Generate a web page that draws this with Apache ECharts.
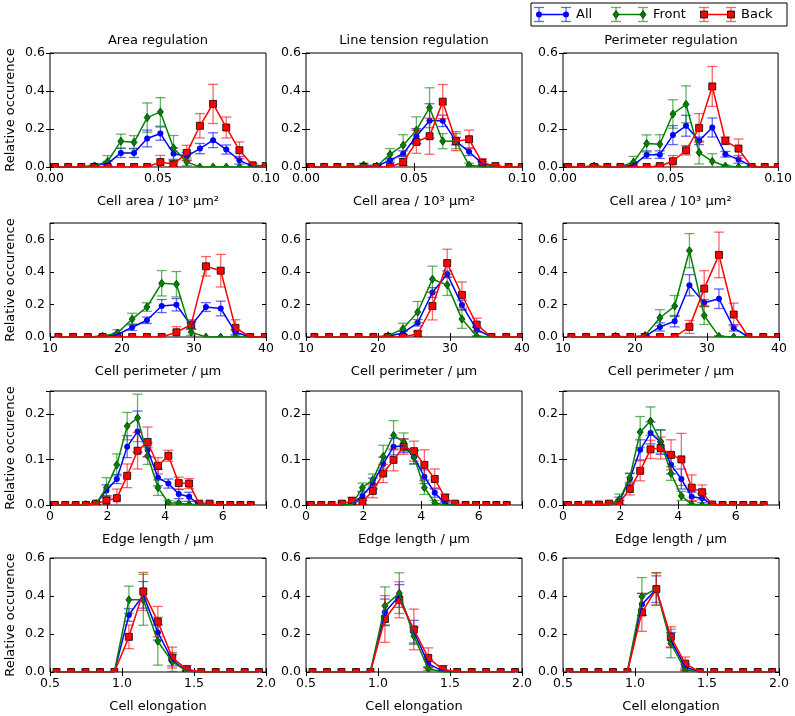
<!DOCTYPE html>
<html>
<head>
<meta charset="utf-8">
<script src="https://cdn.jsdelivr.net/npm/echarts@6/dist/echarts.min.js"></script>
<style>html,body{margin:0;padding:0;background:#fff}#main{width:795px;height:716px}</style>
</head>
<body>
<div id="main"></div>
<script>
// bin centres, one array per row
var areaX  = [0.0023, 0.0084, 0.0145, 0.0206, 0.0267, 0.0328, 0.0389, 0.0450, 0.0511, 0.0572, 0.0633, 0.0694, 0.0755, 0.0816, 0.0877, 0.0938, 0.0999];
var perimX = [11.16, 13.21, 15.26, 17.31, 19.36, 21.41, 23.46, 25.51, 27.56, 29.61, 31.66, 33.71, 35.76, 37.81, 39.86];
var edgeX  = [0.17, 0.53, 0.89, 1.25, 1.60, 1.96, 2.32, 2.68, 3.04, 3.39, 3.75, 4.11, 4.47, 4.83, 5.18, 5.54, 5.90, 6.26, 6.61, 6.97];
var elongX = [0.545, 0.646, 0.746, 0.847, 0.947, 1.048, 1.148, 1.249, 1.349, 1.450, 1.550, 1.651, 1.751, 1.852, 1.952];

// row 1: cell area  (A = area reg., L = line tension reg., P = perimeter reg.)
var areaA_all      = [0,0,0,0.008,0.018,0.074,0.074,0.150,0.176,0.070,0.056,0.097,0.141,0.092,0.035,0.003,0];
var areaA_allErr   = [0,0,0,0.008,0.012,0.024,0.024,0.044,0.035,0.030,0.020,0.027,0.039,0.024,0.020,0.005,0];
var areaA_front    = [0,0,0,0.005,0.030,0.136,0.130,0.260,0.290,0.100,0.027,0,0,0,0,0,0];
var areaA_frontErr = [0,0,0,0.005,0.030,0.037,0.035,0.077,0.075,0.066,0.020,0,0,0,0,0,0];
var areaA_back     = [0,0,0,0,0,0,0,0,0.026,0.014,0.074,0.217,0.332,0.208,0.088,0.009,0.005];
var areaA_backErr  = [0,0,0,0,0,0,0,0,0.035,0.012,0.040,0.064,0.103,0.055,0.044,0.010,0.005];

var areaL_all      = [0,0,0,0,0,0.005,0.035,0.070,0.162,0.243,0.243,0.136,0.080,0.018,0.003,0,0];
var areaL_allErr   = [0,0,0,0,0,0.005,0.010,0.015,0.040,0.090,0.030,0.020,0.020,0.010,0.003,0,0];
var areaL_front    = [0,0,0,0,0.010,0.005,0.067,0.115,0.194,0.312,0.136,0.136,0.010,0,0,0,0];
var areaL_frontErr = [0,0,0,0,0.010,0.005,0.030,0.055,0.070,0.105,0.040,0.040,0.010,0,0,0,0];
var areaL_back     = [0,0,0,0,0,0,0,0.026,0.132,0.162,0.344,0.136,0.146,0.023,0.005,0,0];
var areaL_backErr  = [0,0,0,0,0,0,0,0.020,0.060,0.095,0.090,0.050,0.048,0.020,0.005,0,0];

var areaP_all      = [0,0,0.005,0,0,0.010,0.065,0.065,0.168,0.217,0.138,0.208,0.067,0.040,0.003,0,0];
var areaP_allErr   = [0,0,0.005,0,0,0.010,0.020,0.020,0.050,0.055,0.020,0.050,0.015,0.020,0.003,0,0];
var areaP_front    = [0,0,0.005,0,0,0.026,0.124,0.120,0.279,0.330,0.076,0.030,0.005,0,0,0,0];
var areaP_frontErr = [0,0,0.008,0,0,0.030,0.045,0.050,0.075,0.097,0.060,0.040,0.005,0,0,0,0];
var areaP_back     = [0,0,0,0,0,0,0,0.005,0.030,0.088,0.206,0.424,0.138,0.097,0,0,0];
var areaP_backErr  = [0,0,0,0,0,0,0,0.005,0.030,0.025,0.075,0.105,0.020,0.050,0,0,0];

// row 2: cell perimeter
var perimA_all      = [0,0,0,0.004,0.015,0.060,0.103,0.190,0.198,0.070,0.184,0.175,0.029,0,0];
var perimA_allErr   = [0,0,0,0.004,0.010,0.020,0.020,0.040,0.038,0.020,0.027,0.045,0.015,0,0];
var perimA_front    = [0,0,0,0.005,0.025,0.110,0.184,0.330,0.324,0.030,0,0,0,0,0];
var perimA_frontErr = [0,0,0,0.005,0.020,0.036,0.026,0.078,0.078,0.020,0,0,0,0,0];
var perimA_back     = [0,0,0,0,0,0,0,0,0.029,0.076,0.434,0.407,0.056,0,0];
var perimA_backErr  = [0,0,0,0,0,0,0,0,0.035,0.030,0.060,0.100,0.050,0,0];

var perimL_all      = [0,0,0,0,0,0.004,0.025,0.087,0.273,0.386,0.196,0.045,0,0,0];
var perimL_allErr   = [0,0,0,0,0,0.004,0.010,0.020,0.030,0.020,0.030,0.015,0,0,0];
var perimL_front    = [0,0,0,0,0,0.008,0.050,0.153,0.355,0.320,0.110,0.004,0,0,0];
var perimL_frontErr = [0,0,0,0,0,0.008,0.035,0.065,0.080,0.065,0.057,0.004,0,0,0];
var perimL_back     = [0,0,0,0,0,0,0,0.020,0.190,0.454,0.258,0.076,0,0,0];
var perimL_backErr  = [0,0,0,0,0,0,0,0.015,0.085,0.085,0.080,0.040,0,0,0];

var perimP_all      = [0,0,0,0,0,0.004,0.062,0.097,0.318,0.210,0.235,0.056,0,0,0];
var perimP_allErr   = [0,0,0,0,0,0.004,0.025,0.035,0.065,0.020,0.060,0.020,0,0,0];
var perimP_front    = [0,0,0,0.004,0,0.010,0.118,0.190,0.530,0.132,0.004,0,0,0,0];
var perimP_frontErr = [0,0,0,0.004,0,0.010,0.050,0.065,0.105,0.055,0.004,0,0,0,0];
var perimP_back     = [0,0,0,0,0,0,0,0,0.062,0.297,0.504,0.138,0,0,0];
var perimP_backErr  = [0,0,0,0,0,0,0,0,0.040,0.110,0.140,0.070,0,0,0];

// row 3: edge length
var edgeA_all      = [0,0,0,0,0.003,0.032,0.057,0.128,0.161,0.121,0.060,0.047,0.024,0.018,0.001,0,0,0,0,0];
var edgeA_allErr   = [0,0,0,0,0.003,0.012,0.010,0.024,0.045,0.015,0.018,0.010,0.010,0.010,0.001,0,0,0,0,0];
var edgeA_front    = [0,0,0,0.001,0.003,0.038,0.088,0.173,0.191,0.108,0.038,0.005,0.004,0.001,0,0,0,0,0,0];
var edgeA_frontErr = [0,0,0,0.001,0.003,0.022,0.024,0.030,0.052,0.019,0.017,0.005,0.004,0.001,0,0,0,0,0,0];
var edgeA_back     = [0,0,0,0,0.003,0.010,0.015,0.064,0.119,0.138,0.086,0.108,0.048,0.047,0.003,0.003,0,0,0,0];
var edgeA_backErr  = [0,0,0,0,0.003,0.010,0.020,0.026,0.040,0.033,0.018,0.012,0.013,0.011,0.003,0.003,0,0,0,0];

var edgeL_all      = [0,0,0,0,0.003,0.020,0.047,0.090,0.128,0.130,0.105,0.062,0.027,0.003,0,0,0,0,0,0];
var edgeL_allErr   = [0,0,0,0,0.003,0.010,0.012,0.015,0.018,0.015,0.015,0.015,0.010,0.003,0,0,0,0,0,0];
var edgeL_front    = [0,0,0,0,0.001,0.038,0.055,0.106,0.153,0.138,0.105,0.038,0.005,0,0,0,0,0,0,0];
var edgeL_frontErr = [0,0,0,0,0.001,0.010,0.013,0.025,0.032,0.020,0.015,0.015,0.005,0,0,0,0,0,0,0];
var edgeL_back     = [0,0,0,0.003,0.009,0.007,0.031,0.069,0.099,0.128,0.118,0.088,0.057,0.016,0.003,0,0,0,0,0];
var edgeL_backErr  = [0,0,0,0.003,0.008,0.007,0.015,0.020,0.024,0.017,0.022,0.033,0.022,0.008,0.003,0,0,0,0,0];

var edgeP_all      = [0,0,0,0,0,0.009,0.057,0.121,0.158,0.138,0.088,0.057,0.018,0.015,0.001,0,0,0,0,0];
var edgeP_allErr   = [0,0,0,0,0,0.008,0.012,0.022,0.024,0.027,0.020,0.022,0.010,0.010,0.001,0,0,0,0,0];
var edgeP_front    = [0,0,0,0,0,0.012,0.060,0.160,0.184,0.139,0.069,0.020,0.001,0,0,0,0,0,0,0];
var edgeP_frontErr = [0,0,0,0,0,0.012,0.010,0.034,0.031,0.025,0.015,0.010,0.001,0,0,0,0,0,0,0];
var edgeP_back     = [0,0,0.001,0.001,0.003,0.005,0.035,0.075,0.122,0.125,0.110,0.100,0.038,0.028,0.001,0,0,0,0,0];
var edgeP_backErr  = [0,0,0.001,0.001,0.003,0.005,0.013,0.022,0.020,0.024,0.033,0.057,0.028,0.016,0.001,0,0,0,0,0];

// row 4: cell elongation
var elongA_all      = [0,0,0,0,0,0.300,0.406,0.208,0.062,0.005,0,0,0,0,0];
var elongA_allErr   = [0,0,0,0,0,0.033,0.070,0.040,0.030,0.005,0,0,0,0,0];
var elongA_front    = [0,0,0,0,0,0.380,0.380,0.162,0.053,0.004,0,0,0,0,0];
var elongA_frontErr = [0,0,0,0,0,0.072,0.134,0.126,0.050,0.004,0,0,0,0,0];
var elongA_back     = [0,0,0,0,0,0.185,0.424,0.265,0.076,0.014,0,0,0,0,0];
var elongA_backErr  = [0,0,0,0,0,0.062,0.100,0.080,0.055,0.020,0,0,0,0,0];

var elongL_all      = [0,0,0,0,0,0.314,0.400,0.212,0.044,0.005,0,0,0,0,0];
var elongL_allErr   = [0,0,0,0,0,0.070,0.060,0.060,0.020,0.005,0,0,0,0,0];
var elongL_front    = [0,0,0,0,0,0.348,0.415,0.190,0.018,0,0,0,0,0,0];
var elongL_frontErr = [0,0,0,0,0,0.100,0.107,0.045,0.010,0,0,0,0,0,0];
var elongL_back     = [0,0,0,0,0,0.279,0.380,0.224,0.074,0.014,0,0,0,0,0];
var elongL_backErr  = [0,0,0,0,0,0.123,0.095,0.107,0.053,0.020,0,0,0,0,0];

var elongP_all      = [0,0,0,0,0,0.356,0.436,0.168,0.026,0,0,0,0,0,0];
var elongP_allErr   = [0,0,0,0,0,0.057,0.070,0.040,0.015,0,0,0,0,0,0];
var elongP_front    = [0,0,0,0,0,0.397,0.438,0.150,0.010,0,0,0,0,0,0];
var elongP_frontErr = [0,0,0,0,0,0.100,0.085,0.075,0.010,0,0,0,0,0,0];
var elongP_back     = [0,0,0,0,0,0.314,0.436,0.185,0.044,0,0,0,0,0,0];
var elongP_backErr  = [0,0,0,0,0,0.100,0.085,0.053,0.035,0,0,0,0,0,0];

var titles = ['Area regulation', 'Line tension regulation', 'Perimeter regulation'];
var xNames = ['Cell area / 10\u00b3 \u00b5m\u00b2', 'Cell perimeter / \u00b5m', 'Edge length / \u00b5m', 'Cell elongation'];
var seriesNames = ['All', 'Front', 'Back'];

var rowX = [areaX, perimX, edgeX, elongX];
var panels = [
	[[areaA_all, areaA_allErr, areaA_front, areaA_frontErr, areaA_back, areaA_backErr],
	 [areaL_all, areaL_allErr, areaL_front, areaL_frontErr, areaL_back, areaL_backErr],
	 [areaP_all, areaP_allErr, areaP_front, areaP_frontErr, areaP_back, areaP_backErr]],
	[[perimA_all, perimA_allErr, perimA_front, perimA_frontErr, perimA_back, perimA_backErr],
	 [perimL_all, perimL_allErr, perimL_front, perimL_frontErr, perimL_back, perimL_backErr],
	 [perimP_all, perimP_allErr, perimP_front, perimP_frontErr, perimP_back, perimP_backErr]],
	[[edgeA_all, edgeA_allErr, edgeA_front, edgeA_frontErr, edgeA_back, edgeA_backErr],
	 [edgeL_all, edgeL_allErr, edgeL_front, edgeL_frontErr, edgeL_back, edgeL_backErr],
	 [edgeP_all, edgeP_allErr, edgeP_front, edgeP_frontErr, edgeP_back, edgeP_backErr]],
	[[elongA_all, elongA_allErr, elongA_front, elongA_frontErr, elongA_back, elongA_backErr],
	 [elongL_all, elongL_allErr, elongL_front, elongL_frontErr, elongL_back, elongL_backErr],
	 [elongP_all, elongP_allErr, elongP_front, elongP_frontErr, elongP_back, elongP_backErr]]
];

// axis ranges per row
var rowAxes = [
	{min: 0,   max: 0.1, interval: 0.05, dec: 2, ymax: 0.6,  yint: 0.2},
	{min: 10,  max: 40,  interval: 10,   dec: 0, ymax: 0.7,  yint: 0.2},
	{min: 0,   max: 7.5, interval: 2,    dec: 0, ymax: 0.25, yint: 0.1},
	{min: 0.5, max: 2.0, interval: 0.5,  dec: 1, ymax: 0.6,  yint: 0.2}
];

var FONT = 'DejaVu Sans';
var colLeft = [50, 306, 563];
var rowTop = [53, 223, 391, 558];
var gridW = 216, gridH = 114;
var colors = ['#0000ff', '#008000', '#ff0000'];
var kinds = ['circle', 'diamond', 'rect'];

function tickFmt(interval, dec) {
	return function (v) {
		var k = v / interval;
		if (Math.abs(k - Math.round(k)) > 1e-6) return '';
		return v.toFixed(dec);
	};
}

// vertical error bar with caps
function errRender(color) {
	return function (params, api) {
		var x = api.value(0), y = api.value(1), e = api.value(2);
		if (!(e > 0)) return null;
		var p1 = api.coord([x, y + e]);
		var p2 = api.coord([x, y - e]);
		var st = {stroke: color, lineWidth: 1.3, opacity: 0.6};
		return {type: 'group', children: [
			{type: 'line', shape: {x1: p1[0], y1: p1[1], x2: p2[0], y2: p2[1]}, style: st},
			{type: 'line', shape: {x1: p1[0] - 5, y1: p1[1], x2: p1[0] + 5, y2: p1[1]}, style: st},
			{type: 'line', shape: {x1: p2[0] - 5, y1: p2[1], x2: p2[0] + 5, y2: p2[1]}, style: st}
		]};
	};
}

function markerShape(kind, color, px, py) {
	if (kind === 'circle') {
		return {type: 'circle', shape: {cx: px, cy: py, r: 3}, style: {fill: color}};
	}
	if (kind === 'diamond') {
		return {type: 'polygon', shape: {points: [[px, py - 4], [px + 3, py], [px, py + 4], [px - 3, py]]},
			style: {fill: color, stroke: '#003300', lineWidth: 0.8}};
	}
	return {type: 'rect', shape: {x: px - 3.5, y: py - 3.5, width: 7, height: 7},
		style: {fill: color, stroke: '#000', lineWidth: 0.8}};
}

function markRender(kind, color) {
	return function (params, api) {
		var p = api.coord([api.value(0), api.value(1)]);
		return markerShape(kind, color, p[0], p[1]);
	};
}

var grids = [], xAxes = [], yAxes = [], series = [], titleList = [];
var tickStyle = {show: true, inside: true, length: 4, lineStyle: {color: '#000', width: 1}};
var labelStyle = {fontSize: 12.5, color: '#000', fontFamily: FONT, margin: 5};

for (var r = 0; r < 4; r++) {
	var ax = rowAxes[r];
	for (var c = 0; c < 3; c++) {
		var g = grids.length;
		grids.push({left: colLeft[c], top: rowTop[r], width: gridW, height: gridH,
			show: true, borderColor: '#000', borderWidth: 1, backgroundColor: 'transparent'});
		var xBase = {gridIndex: g, type: 'value', min: ax.min, max: ax.max, interval: ax.interval,
			splitLine: {show: false}, axisLine: {show: false}, axisTick: tickStyle};
		var yBase = {gridIndex: g, type: 'value', min: 0, max: ax.ymax, interval: ax.yint,
			splitLine: {show: false}, axisLine: {show: false}, axisTick: tickStyle};
		xAxes.push(Object.assign({}, xBase, {position: 'bottom',
			name: xNames[r], nameLocation: 'middle', nameGap: 28,
			nameTextStyle: {fontSize: 13, color: '#000', fontFamily: FONT},
			axisLabel: Object.assign({}, labelStyle, {formatter: tickFmt(ax.interval, ax.dec)})}));
		xAxes.push(Object.assign({}, xBase, {position: 'top', axisLabel: {show: false}}));
		var yMain = Object.assign({}, yBase, {position: 'left',
			axisLabel: Object.assign({}, labelStyle, {formatter: tickFmt(ax.yint, 1)})});
		if (c === 0) {
			yMain.name = 'Relative occurence';
			yMain.nameLocation = 'middle';
			yMain.nameGap = 33;
			yMain.nameTextStyle = {fontSize: 13, color: '#000', fontFamily: FONT};
		}
		yAxes.push(yMain);
		yAxes.push(Object.assign({}, yBase, {position: 'right', axisLabel: {show: false}}));

		var d = panels[r][c];
		var xs = rowX[r];
		for (var s = 0; s < 3; s++) {
			var vals = d[s * 2], errs = d[s * 2 + 1];
			var errData = [], lineData = [];
			for (var i = 0; i < xs.length; i++) {
				errData.push([xs[i], vals[i], errs[i]]);
				lineData.push([xs[i], vals[i]]);
			}
			series.push({
				type: 'custom', name: seriesNames[s], xAxisIndex: 2 * g, yAxisIndex: 2 * g,
				renderItem: errRender(colors[s]), data: errData, encode: {x: 0, y: 1},
				clip: true, silent: true
			});
			series.push({
				type: 'line', name: seriesNames[s], xAxisIndex: 2 * g, yAxisIndex: 2 * g,
				data: lineData, showSymbol: false, clip: true,
				lineStyle: {color: colors[s], width: 1.5},
				itemStyle: {color: colors[s]},
				silent: true
			});
			series.push({
				type: 'custom', name: seriesNames[s], xAxisIndex: 2 * g, yAxisIndex: 2 * g,
				renderItem: markRender(kinds[s], colors[s]), data: lineData, encode: {x: 0, y: 1},
				clip: true, silent: true
			});
		}
	}
}

for (var c2 = 0; c2 < 3; c2++) {
	titleList.push({text: titles[c2], left: colLeft[c2] + gridW / 2, top: 34, textAlign: 'center', padding: 0,
		textStyle: {fontSize: 13, fontWeight: 'normal', color: '#000', fontFamily: FONT}});
}

// legend box drawn by hand (errorbar style handles)
function legendItem(x0, s, label) {
	var y = 14.5, items = [];
	var color = colors[s];
	var est = {stroke: color, lineWidth: 1.3, opacity: 0.6};
	items.push({type: 'line', shape: {x1: x0, y1: y, x2: x0 + 27, y2: y}, style: {stroke: color, lineWidth: 1.5}});
	[x0, x0 + 27].forEach(function (px) {
		items.push({type: 'line', shape: {x1: px, y1: y - 7, x2: px, y2: y + 7}, style: est});
		items.push({type: 'line', shape: {x1: px - 5, y1: y - 7, x2: px + 5, y2: y - 7}, style: est});
		items.push({type: 'line', shape: {x1: px - 5, y1: y + 7, x2: px + 5, y2: y + 7}, style: est});
		items.push(markerShape(kinds[s], color, px, y));
	});
	items.push({type: 'text', x: x0 + 37, y: y, style: {text: label, fill: '#000', font: '13px "DejaVu Sans"',
		verticalAlign: 'middle', align: 'left'}});
	return items;
}

var legendEls = [{type: 'rect', shape: {x: 531, y: 3, width: 256, height: 23},
	style: {fill: '#fff', stroke: '#000', lineWidth: 1}}];
legendEls = legendEls.concat(legendItem(539, 0, 'All'));
legendEls = legendEls.concat(legendItem(616, 1, 'Front'));
legendEls = legendEls.concat(legendItem(704, 2, 'Back'));

var myChart = echarts.init(document.getElementById('main'));
var option = {
	animation: false,
	backgroundColor: '#fff',
	textStyle: {fontFamily: FONT},
	title: titleList,
	grid: grids,
	xAxis: xAxes,
	yAxis: yAxes,
	series: series,
	graphic: {elements: legendEls}
};
myChart.setOption(option);
</script>
</body>
</html>
